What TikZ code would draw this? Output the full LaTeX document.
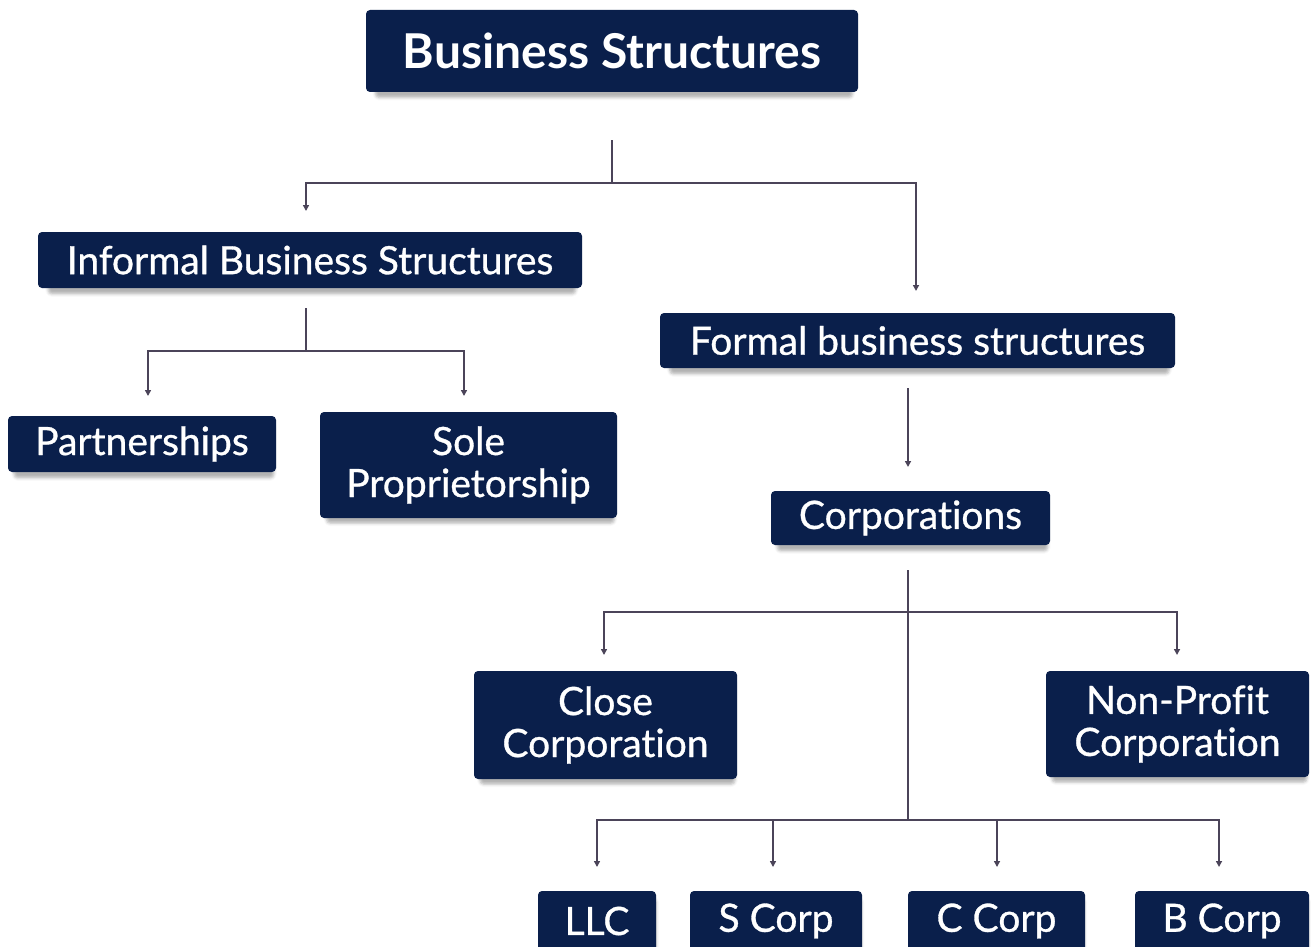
\documentclass[tikz,border=0pt]{standalone}
\usepackage{fontspec}
\setmainfont{Lato}
\newfontfamily\boxfont[FakeBold=0.8,Ligatures=NoCommon]{Lato}
\newfontfamily\titlefont[Ligatures=NoCommon]{Lato Bold}
\usetikzlibrary{arrows.meta,shadows.blur}
\definecolor{navy}{HTML}{0A1F4B}
\definecolor{linkc}{HTML}{4B4459}
\tikzset{
  box/.style={fill=navy, rounded corners=4pt, text=white, align=center,
    inner sep=0pt, font=\boxfont\fontsize{39}{42}\selectfont,
    blur shadow={shadow xshift=2pt, shadow yshift=-7pt, shadow blur radius=3pt, shadow opacity=30, shadow scale=0.97}},
  link/.style={draw=linkc, line width=1.8pt},
  arr/.style={link, -{Triangle[length=6pt,width=6pt]}}
}
\begin{document}
\begin{tikzpicture}[x=1pt,y=-1pt]
\useasboundingbox (0,0) rectangle (1311,947);
% boxes
\node[box, minimum width=492pt, minimum height=82pt, font=\titlefont\fontsize{48}{52}\selectfont] (top) at (612,51) {Business Structures};
\node[box, minimum width=544pt, minimum height=56pt] (inf) at (310,260) {Informal Business Structures};
\node[box, minimum width=268pt, minimum height=56pt] (part) at (142,444) {Partnerships};
\node[box, minimum width=297pt, minimum height=106pt] (sole) at (468.5,465) {Sole\\Proprietorship};
\node[box, minimum width=515pt, minimum height=55pt] (formal) at (917.5,340.5) {Formal business structures};
\node[box, minimum width=279pt, minimum height=54pt] (corp) at (910.5,518) {Corporations};
\node[box, minimum width=263pt, minimum height=108pt] (close) at (605.5,725) {Close\\Corporation};
\node[box, minimum width=263pt, minimum height=106pt] (nonp) at (1177.5,724) {Non-Profit\\Corporation};
\node[box, minimum width=118pt, minimum height=60pt] (llc) at (597,921) {LLC};
\node[box, minimum width=172pt, minimum height=60pt] (scorp) at (776,921) {S Corp};
\node[box, minimum width=177pt, minimum height=60pt] (ccorp) at (996.5,921) {C Corp};
\node[box, minimum width=174pt, minimum height=60pt] (bcorp) at (1222,921) {B Corp};
% junctions and arrow tips
\coordinate (t0) at (612,140);
\coordinate (t1) at (612,183);
\coordinate (tinf) at (306,211);
\coordinate (tfor) at (916,291);
\coordinate (i0) at (306,308);
\coordinate (i1) at (306,351);
\coordinate (ipart) at (148,396);
\coordinate (isole) at (464,396);
\coordinate (f0) at (908,388);
\coordinate (fcorp) at (908,467);
\coordinate (c0) at (908,570);
\coordinate (c1) at (908,612);
\coordinate (c2) at (908,820);
\coordinate (cclose) at (604,655);
\coordinate (cnonp) at (1177,655);
\coordinate (cllc) at (597,867);
\coordinate (cs) at (773,867);
\coordinate (cc) at (997,867);
\coordinate (cb) at (1219,867);
% connectors
\draw[link] (t0) -- (t1);
\draw[arr] (t1) -| (tinf);
\draw[arr] (t1) -| (tfor);
\draw[link] (i0) -- (i1);
\draw[arr] (i1) -| (ipart);
\draw[arr] (i1) -| (isole);
\draw[arr] (f0) -- (fcorp);
\draw[link] (c0) -- (c2);
\draw[arr] (c1) -| (cclose);
\draw[arr] (c1) -| (cnonp);
\draw[arr] (c2) -| (cllc);
\draw[arr] (c2) -| (cs);
\draw[arr] (c2) -| (cc);
\draw[arr] (c2) -| (cb);
\end{tikzpicture}
\end{document}
